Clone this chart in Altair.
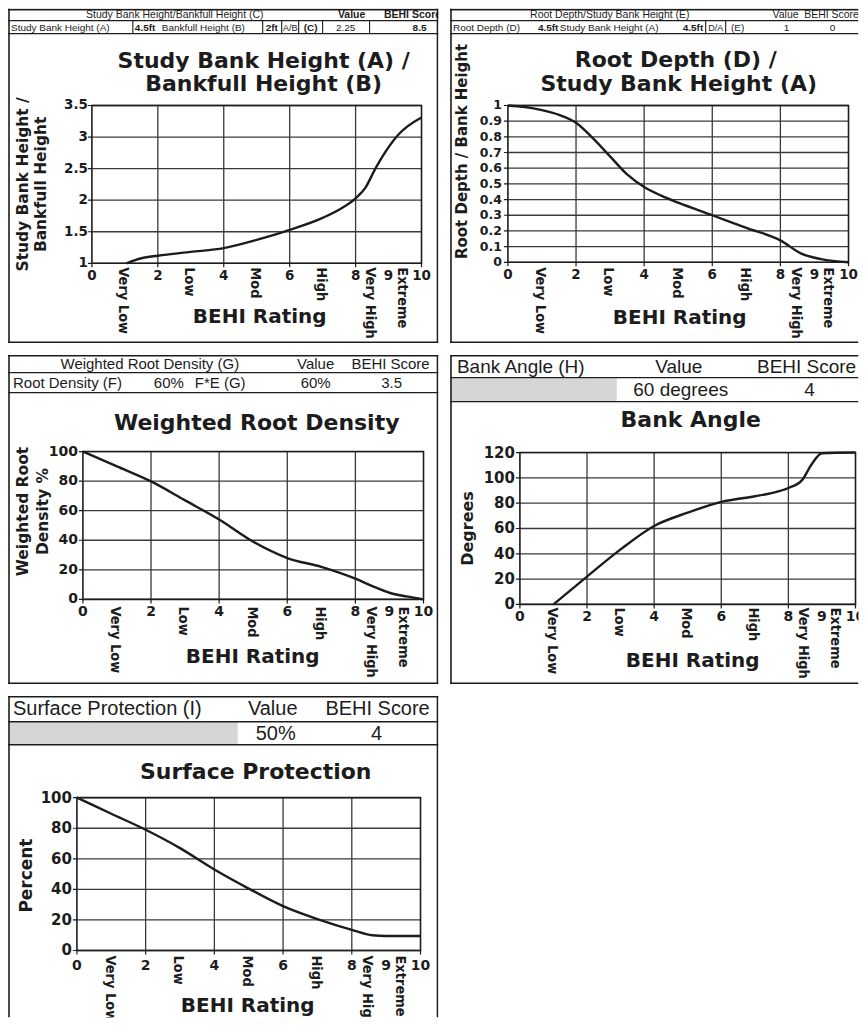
import altair as alt
import pandas as pd

# ---------------- data ----------------
X_TICKS = [0, 2, 4, 6, 8, 9, 10]
X_TICK_LABELS = ["0", "2", "4", "6", "8", "9", "10"]
MAJOR_TICKS = [0, 2, 4, 6, 8, 10]
GRID_X = [2, 4, 6, 8]
CATEGORIES = ["Very Low", "Low", "Mod", "High", "Very High", "Extreme"]
CAT_POS = [0.95, 2.95, 4.95, 6.95, 8.45, 9.4]

# Panel 1: Study Bank Height / Bankfull Height
P1_X = [1.05, 1.5, 2.0, 3.0, 4.0, 5.0, 6.0, 7.0, 7.6, 8.0, 8.3, 8.6, 8.9, 9.3, 10.0]
P1_Y = [1.0, 1.08, 1.12, 1.18, 1.24, 1.37, 1.53, 1.72, 1.88, 2.03, 2.2, 2.5, 2.76, 3.04, 3.31]
P1_YT = [1, 1.5, 2, 2.5, 3, 3.5]
P1_YL = ["1", "1.5", "2", "2.5", "3", "3.5"]

# Panel 2: Root Depth / Study Bank Height
P2_X = [0, 0.5, 1.0, 1.5, 2.0, 2.5, 3.0, 3.5, 4.0, 4.5, 5.0, 6.0, 7.0, 8.0, 8.6, 9.2, 10.0]
P2_Y = [1.0, 0.99, 0.97, 0.94, 0.89, 0.79, 0.675, 0.56, 0.48, 0.425, 0.38, 0.30, 0.22, 0.14, 0.057, 0.02, 0.0]
P2_YT = [0, 0.1, 0.2, 0.3, 0.4, 0.5, 0.6, 0.7, 0.8, 0.9, 1]
P2_YL = ["0", "0.1", "0.2", "0.3", "0.4", "0.5", "0.6", "0.7", "0.8", "0.9", "1"]

# Panel 3: Weighted Root Density
P3_X = [0, 1, 2, 3, 4, 5, 6, 7, 8, 8.5, 9, 9.5, 10]
P3_Y = [100, 90, 79.8, 67, 54, 39, 28, 22, 14, 9, 4.5, 2, 0]
P3_YT = [0, 20, 40, 60, 80, 100]
P3_YL = ["0", "20", "40", "60", "80", "100"]

# Panel 4: Bank Angle
P4_X = [1.0, 2, 3, 4, 5, 6, 7, 7.5, 8, 8.4, 8.7, 9, 10]
P4_Y = [0, 22, 43.5, 62, 72.5, 81, 85.5, 88, 92, 98, 111, 119.5, 120]
P4_YT = [0, 20, 40, 60, 80, 100, 120]
P4_YL = ["0", "20", "40", "60", "80", "100", "120"]

# Panel 5: Surface Protection
P5_X = [0, 1, 2, 3, 4, 5, 6, 7, 8, 8.6, 9, 10]
P5_Y = [100, 89.5, 79, 67, 53, 40.5, 29, 20.5, 13.5, 10, 9.5, 9.5]
P5_YT = [0, 20, 40, 60, 80, 100]
P5_YL = ["0", "20", "40", "60", "80", "100"]

# header texts
H1_ROW1 = ["Study Bank Height/Bankfull Height (C)", "Value", "BEHI Score"]
H1_ROW2 = ["Study Bank Height (A)", "4.5ft", "Bankfull Height (B)", "2ft", "A/B", "(C)", "2.25", "8.5"]
H2_ROW1 = ["Root Depth/Study Bank Height (E)", "Value", "BEHI Score"]
H2_ROW2 = ["Root Depth (D)", "4.5ft", "Study Bank Height (A)", "4.5ft", "D/A", "(E)", "1", "0"]
H3_ROW1 = ["Weighted Root Density (G)", "Value", "BEHI Score"]
H3_ROW2 = ["Root Density (F)", "60%", "F*E (G)", "60%", "3.5"]
H4_ROW1 = ["Bank Angle (H)", "Value", "BEHI Score"]
H4_ROW2 = ["60 degrees", "4"]
H5_ROW1 = ["Surface Protection (I)", "Value", "BEHI Score"]
H5_ROW2 = ["50%", "4"]

# ---------------- styling ----------------
INK = "#1c1c1c"
GRID = "#3a3a3a"
SHADE = "#d6d6d6"
TF = "DejaVu Sans"
HF = "Liberation Sans"
NARROW = "Liberation Sans Narrow, DejaVu Sans Condensed, sans-serif"
ONE = alt.Data(values=[{"k": 0}])


def T(s, x, y, size, bold=False, align="center", font=HF, angle=0, color=INK):
    return alt.Chart(ONE).mark_text(
        text=s, fontSize=size, fontWeight="bold" if bold else "normal",
        align=align, baseline="middle", font=font, angle=angle, color=color, clip=True,
    ).encode(x=alt.value(x), y=alt.value(y))


def HL(x0, x1, y, w=1.3):
    return alt.Chart(ONE).mark_rule(color=INK, strokeWidth=w, clip=True).encode(
        x=alt.value(x0), x2=alt.value(x1), y=alt.value(y))


def VL(x, y0, y1, w=1.1):
    return alt.Chart(ONE).mark_rule(color=INK, strokeWidth=w, clip=True).encode(
        x=alt.value(x), y=alt.value(y0), y2=alt.value(y1))


def BOX(x0, x1, y0, y1, fill=SHADE):
    return alt.Chart(ONE).mark_rect(fill=fill, clip=True).encode(
        x=alt.value(x0), x2=alt.value(x1), y=alt.value(y0), y2=alt.value(y1))


def border(W, H, right=True, bottom=True):
    out = [HL(0, W, 1, 1.6), VL(1, 0, H, 1.6)]
    if right:
        out.append(VL(W - 1, 0, H, 1.6))
    if bottom:
        out.append(HL(0, W, H - 1, 1.6))
    return out


def panel(W, H, xr, yd, yr, cx, cy, yt, yl, ylab_x, ylab_size, xlab_y, xlab_size,
          cat_top, extra, cat_size=14.5):
    xs = alt.Scale(domain=[0, 10], range=xr, zero=False, nice=False)
    ys = alt.Scale(domain=yd, range=yr, zero=False, nice=False)

    def X(f):
        return alt.X(f, type="quantitative", scale=xs, axis=None)

    def Y(f):
        return alt.Y(f, type="quantitative", scale=ys, axis=None)

    gx = alt.Chart(pd.DataFrame({"g": GRID_X})).mark_rule(color=GRID, strokeWidth=1.3, clip=True).encode(
        x=X("g"), y=alt.value(yr[1]), y2=alt.value(yr[0]))
    gy = alt.Chart(pd.DataFrame({"g": yt})).mark_rule(color=GRID, strokeWidth=1.3, clip=True).encode(
        y=Y("g"), x=alt.value(xr[0]), x2=alt.value(xr[1]))
    frame = alt.Chart(pd.DataFrame({"a": [0], "b": [10], "c": [yd[0]], "d": [yd[1]]})).mark_rect(
        fillOpacity=0, stroke=INK, strokeWidth=1.6, clip=True).encode(
        x=X("a"), x2=alt.X2("b"), y=Y("c"), y2=alt.Y2("d"))
    xtk = alt.Chart(pd.DataFrame({"t": MAJOR_TICKS})).mark_rule(color=INK, strokeWidth=1.2, clip=True).encode(
        x=X("t"), y=alt.value(yr[0]), y2=alt.value(yr[0] + 4))
    ytk = alt.Chart(pd.DataFrame({"t": yt})).mark_rule(color=INK, strokeWidth=1.2, clip=True).encode(
        y=Y("t"), x=alt.value(xr[0] - 4), x2=alt.value(xr[0]))
    line = alt.Chart(pd.DataFrame({"x": cx, "y": cy})).mark_line(
        color=INK, strokeWidth=2.4, interpolate="monotone", clip=True).encode(x=X("x"), y=Y("y"))
    ylabels = alt.Chart(pd.DataFrame({"t": yt, "l": yl})).mark_text(
        align="right", baseline="middle", font=TF, fontWeight="bold",
        fontSize=ylab_size, color=INK, clip=True).encode(y=Y("t"), x=alt.value(ylab_x), text="l:N")
    xlabels = alt.Chart(pd.DataFrame({"t": X_TICKS, "l": X_TICK_LABELS})).mark_text(
        align="center", baseline="middle", font=TF, fontWeight="bold",
        fontSize=xlab_size, color=INK, clip=True).encode(x=X("t"), y=alt.value(xlab_y), text="l:N")
    cats = alt.Chart(pd.DataFrame({"t": CAT_POS, "l": CATEGORIES})).mark_text(
        angle=90, align="left", baseline="middle", font=NARROW, fontWeight="bold",
        fontSize=cat_size, color=INK, clip=True).encode(x=X("t"), y=alt.value(cat_top), text="l:N")
    return alt.layer(gx, gy, frame, xtk, ytk, line, ylabels, xlabels, cats, *extra).properties(
        width=W, height=H)


W_LEFT, W_RIGHT = 431, 409
H_ROW1, H_ROW2, H_ROW3 = 335, 330, 322

# ---------------- panel 1 ----------------
p1_extra = border(W_LEFT, H_ROW1) + [
    HL(0, W_LEFT, 12), HL(0, W_LEFT, 25),
    VL(125, 12, 25), VL(255, 12, 25), VL(274, 12, 25), VL(291, 12, 25), VL(315, 12, 25), VL(362, 12, 25),
    T(H1_ROW1[0], 167, 6.5, 10.5),
    T(H1_ROW1[1], 344, 6.5, 10.5, bold=True),
    T(H1_ROW1[2], 405, 6.5, 10.5, bold=True),
    T(H1_ROW2[0], 3, 19, 10, align="left"),
    T(H1_ROW2[1], 127, 19, 10, bold=True, align="left"),
    T(H1_ROW2[2], 154, 19, 10, align="left"),
    T(H1_ROW2[3], 258, 19, 10, bold=True, align="left"),
    T(H1_ROW2[4], 282.5, 19, 9),
    T(H1_ROW2[5], 303, 19, 10, bold=True),
    T(H1_ROW2[6], 338, 19, 10),
    T(H1_ROW2[7], 412, 19, 10, bold=True),
    T("Study Bank Height (A) /", 256, 52, 22, bold=True, font=TF),
    T("Bankfull Height (B)", 256, 76, 22, bold=True, font=TF),
    T("Study Bank Height /", 15, 176, 15.5, bold=True, font=TF, angle=270),
    T("Bankfull Height", 33, 176, 15.5, bold=True, font=TF, angle=270),
    T("BEHI Rating", 252, 309, 20, bold=True, font=TF),
]
p1 = panel(W_LEFT, H_ROW1, [84, 414], [1, 3.5], [255, 97], P1_X, P1_Y, P1_YT, P1_YL,
           80, 13.5, 268, 13.5, 259, p1_extra)

# ---------------- panel 2 ----------------
p2_extra = border(W_RIGHT, H_ROW1, right=False) + [
    HL(0, W_RIGHT, 12), HL(0, W_RIGHT, 25),
    VL(256, 12, 25), VL(276, 12, 25),
    T(H2_ROW1[0], 160, 6.5, 10.5),
    T(H2_ROW1[1], 336, 6.5, 10.5),
    T(H2_ROW1[2], 382, 6.5, 10.5),
    T(H2_ROW2[0], 3, 19, 10, align="left"),
    T(H2_ROW2[1], 88, 19, 10, bold=True, align="left"),
    T(H2_ROW2[2], 110, 19, 10, align="left"),
    T(H2_ROW2[3], 233, 19, 10, bold=True, align="left"),
    T(H2_ROW2[4], 266, 19, 9),
    T(H2_ROW2[5], 288, 19, 10),
    T(H2_ROW2[6], 337, 19, 10),
    T(H2_ROW2[7], 383, 19, 10),
    T("Root Depth (D) /", 226, 51, 22, bold=True, font=TF),
    T("Study Bank Height (A)", 229, 76, 22, bold=True, font=TF),
    T("Root Depth / Bank Height", 12, 143, 15, bold=True, font=TF, angle=270),
    T("BEHI Rating", 230, 310, 20, bold=True, font=TF),
]
p2 = panel(W_RIGHT, H_ROW1, [58, 399], [0, 1], [254, 97], P2_X, P2_Y, P2_YT, P2_YL,
           52, 12.5, 267, 13.5, 259, p2_extra)

# ---------------- panel 3 ----------------
p3_extra = border(W_LEFT, H_ROW2) + [
    HL(0, W_LEFT, 18), HL(0, W_LEFT, 38),
    T(H3_ROW1[0], 142, 9.5, 15),
    T(H3_ROW1[1], 308, 9.5, 15),
    T(H3_ROW1[2], 383, 9.5, 15),
    T(H3_ROW2[0], 5, 28.5, 15, align="left"),
    T(H3_ROW2[1], 161, 28.5, 15),
    T(H3_ROW2[2], 187, 28.5, 15, align="left"),
    T(H3_ROW2[3], 308, 28.5, 15),
    T(H3_ROW2[4], 384, 28.5, 15),
    T("Weighted Root Density", 249, 68, 22, bold=True, font=TF),
    T("Weighted Root", 15, 157, 15.5, bold=True, font=TF, angle=270),
    T("Density %", 35, 157, 15.5, bold=True, font=TF, angle=270),
    T("BEHI Rating", 245, 303, 20, bold=True, font=TF),
]
p3 = panel(W_LEFT, H_ROW2, [75, 416], [0, 100], [245, 97], P3_X, P3_Y, P3_YT, P3_YL,
           70, 14, 258, 14, 252, p3_extra)

# ---------------- panel 4 ----------------
p4_extra = [BOX(1, 167, 23.5, 47)] + border(W_RIGHT, H_ROW2, right=False) + [
    HL(0, W_RIGHT, 23), HL(0, W_RIGHT, 47),
    T(H4_ROW1[0], 7, 12, 19, align="left"),
    T(H4_ROW1[1], 229, 12, 19),
    T(H4_ROW1[2], 357, 12, 19),
    T(H4_ROW2[0], 231, 35.5, 19),
    T(H4_ROW2[1], 360, 35.5, 19),
    T("Bank Angle", 241, 65, 22, bold=True, font=TF),
    T("Degrees", 18, 174, 16, bold=True, font=TF, angle=270),
    T("BEHI Rating", 243, 307, 20, bold=True, font=TF),
]
p4 = panel(W_RIGHT, H_ROW2, [70, 406], [0, 120], [250, 98], P4_X, P4_Y, P4_YT, P4_YL,
           65, 15, 263, 14, 253, p4_extra)

# ---------------- panel 5 ----------------
p5_extra = [BOX(1, 230, 26.5, 49)] + border(W_LEFT, H_ROW3, bottom=False) + [
    HL(0, W_LEFT, 26), HL(0, W_LEFT, 49),
    T(H5_ROW1[0], 5, 13.5, 20, align="left"),
    T(H5_ROW1[1], 265, 13.5, 20),
    T(H5_ROW1[2], 370, 13.5, 20),
    T(H5_ROW2[0], 268, 38, 20),
    T(H5_ROW2[1], 369, 38, 20),
    T("Surface Protection", 248, 76, 22, bold=True, font=TF),
    T("Percent", 19, 180, 17, bold=True, font=TF, angle=270),
    T("BEHI Rating", 240, 311, 20, bold=True, font=TF),
]
p5 = panel(W_LEFT, H_ROW3, [69, 413], [0, 100], [255, 102], P5_X, P5_Y, P5_YT, P5_YL,
           64, 15, 271, 14, 260, p5_extra)

chart = alt.concat(p1, p2, p3, p4, p5, columns=2, spacing=11.5, bounds="flush").resolve_scale(
    x="independent", y="independent"
).properties(padding=0).configure_view(strokeWidth=0)

chart.save("out.html", embed_options={"renderer": "svg", "actions": False})
